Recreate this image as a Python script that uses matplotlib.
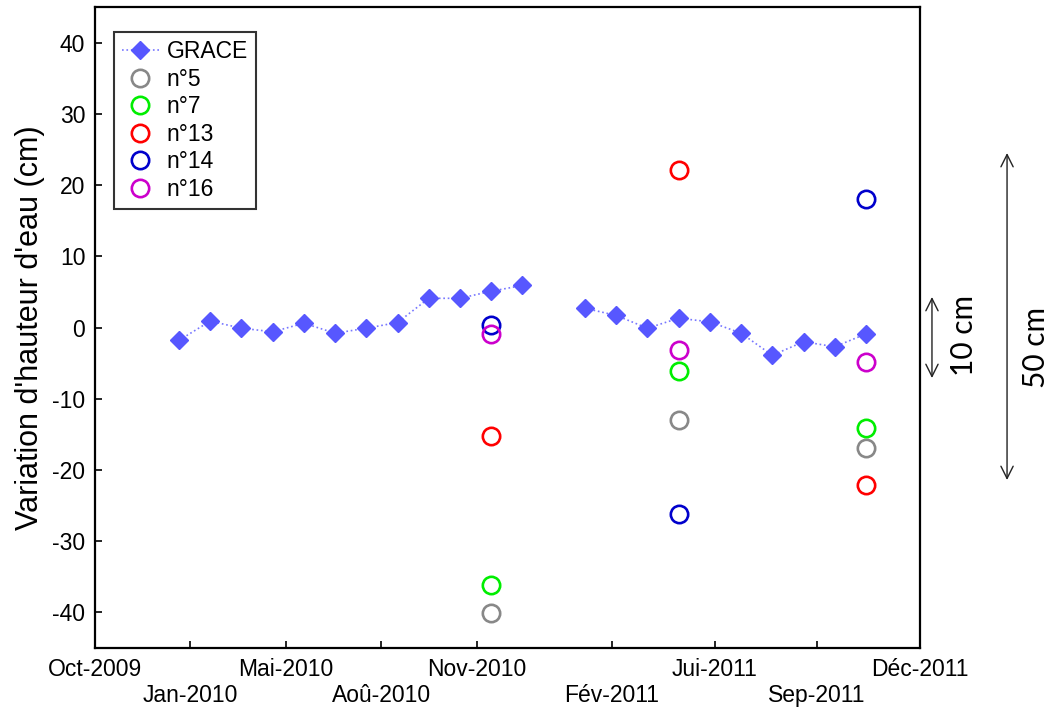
import numpy as np
import matplotlib
matplotlib.use("Agg")
import matplotlib.pyplot as plt

plt.rcParams['font.family'] = ['Liberation Sans', 'DejaVu Sans']
plt.rcParams['axes.unicode_minus'] = False

# GRACE monthly series (index 12 missing)
grace_x = np.arange(23)
grace_y = [-1.8, 0.9, -0.1, -0.6, 0.6, -0.8, -0.1, 0.7, 4.1, 4.1, 5.1, 5.9,
           np.nan, 2.7, 1.7, -0.1, 1.3, 0.8, -0.8, -3.9, -2.0, -2.7, -0.9]

# piezometer wells, sampled at three dates
well_x = [10, 16, 22]
well_names = ['n°5', 'n°7', 'n°13', 'n°14', 'n°16']
well_colors = ['#888888', '#00ee00', '#ff0000', '#0000cc', '#cc00cc']
well_values = [
    [-40.1, -13.0, -16.9],
    [-36.2, -6.1, -14.1],
    [-15.2, 22.1, -22.1],
    [0.3, -26.2, 18.0],
    [-0.9, -3.2, -4.9],
]

tick_pos = [-2.69, 0.35, 3.43, 6.47, 9.54, 13.86, 17.16, 20.43, 23.73]
tick_labels = ['Oct-2009', 'Jan-2010', 'Mai-2010', 'Aoû-2010', 'Nov-2010',
               'Fév-2011', 'Jui-2011', 'Sep-2011', 'Déc-2011']

fig = plt.figure(figsize=(10.53, 7.15), dpi=100)
ax = fig.add_axes([0.0902, 0.0937, 0.7835, 0.8965])

ax.plot(grace_x, grace_y, linestyle=':', color='#7777ff', lw=1.2,
        marker='D', markersize=9.5, markerfacecolor='#5757ff',
        markeredgecolor='#5757ff', label='GRACE', zorder=3)

for name, col, vals in zip(well_names, well_colors, well_values):
    ax.plot(well_x, vals, linestyle='none', marker='o', markersize=12.5,
            markerfacecolor='none', markeredgecolor=col, markeredgewidth=1.9,
            label=name, zorder=4)

ax.set_xlim(tick_pos[0], tick_pos[-1])
ax.set_ylim(-45, 45)
ax.set_yticks(np.arange(-40, 41, 10))
ax.set_xticks(tick_pos)
ax.set_xticklabels([lab if i % 2 == 0 else '\n' + lab
                    for i, lab in enumerate(tick_labels)])
ax.tick_params(direction='in', length=5, width=1.2, labelsize=16.5, pad=7)
for sp in ax.spines.values():
    sp.set_linewidth(1.6)

ax.set_ylabel("Variation d'hauteur d'eau (cm)", fontsize=22, labelpad=5)

leg = ax.legend(loc='upper left', bbox_to_anchor=(0.023, 0.961),
                borderaxespad=0, fontsize=16.5, frameon=True, fancybox=False,
                edgecolor='black', handlelength=1.6, handletextpad=0.35,
                labelspacing=0.2, borderpad=0.35)
leg.get_frame().set_linewidth(1.5)

# scale arrows on the right
arrow = dict(arrowstyle='<->', color='#222222', lw=1.0,
             shrinkA=0, shrinkB=0, mutation_scale=22)
ax.annotate('', xy=(1.0145, 0.5476), xytext=(1.0145, 0.4212),
            xycoords='axes fraction', arrowprops=arrow, annotation_clip=False)
ax.annotate('', xy=(1.1055, 0.7722), xytext=(1.1055, 0.2621),
            xycoords='axes fraction', arrowprops=arrow, annotation_clip=False)
ax.text(1.053, 0.488, '10 cm', transform=ax.transAxes, rotation=90,
        ha='center', va='center', fontsize=21.5, family=['Lato', 'DejaVu Sans'])
ax.text(1.14, 0.4696, '50 cm', transform=ax.transAxes, rotation=90,
        ha='center', va='center', fontsize=21.5, family=['Lato', 'DejaVu Sans'])

fig.savefig('out.png', dpi=100)
